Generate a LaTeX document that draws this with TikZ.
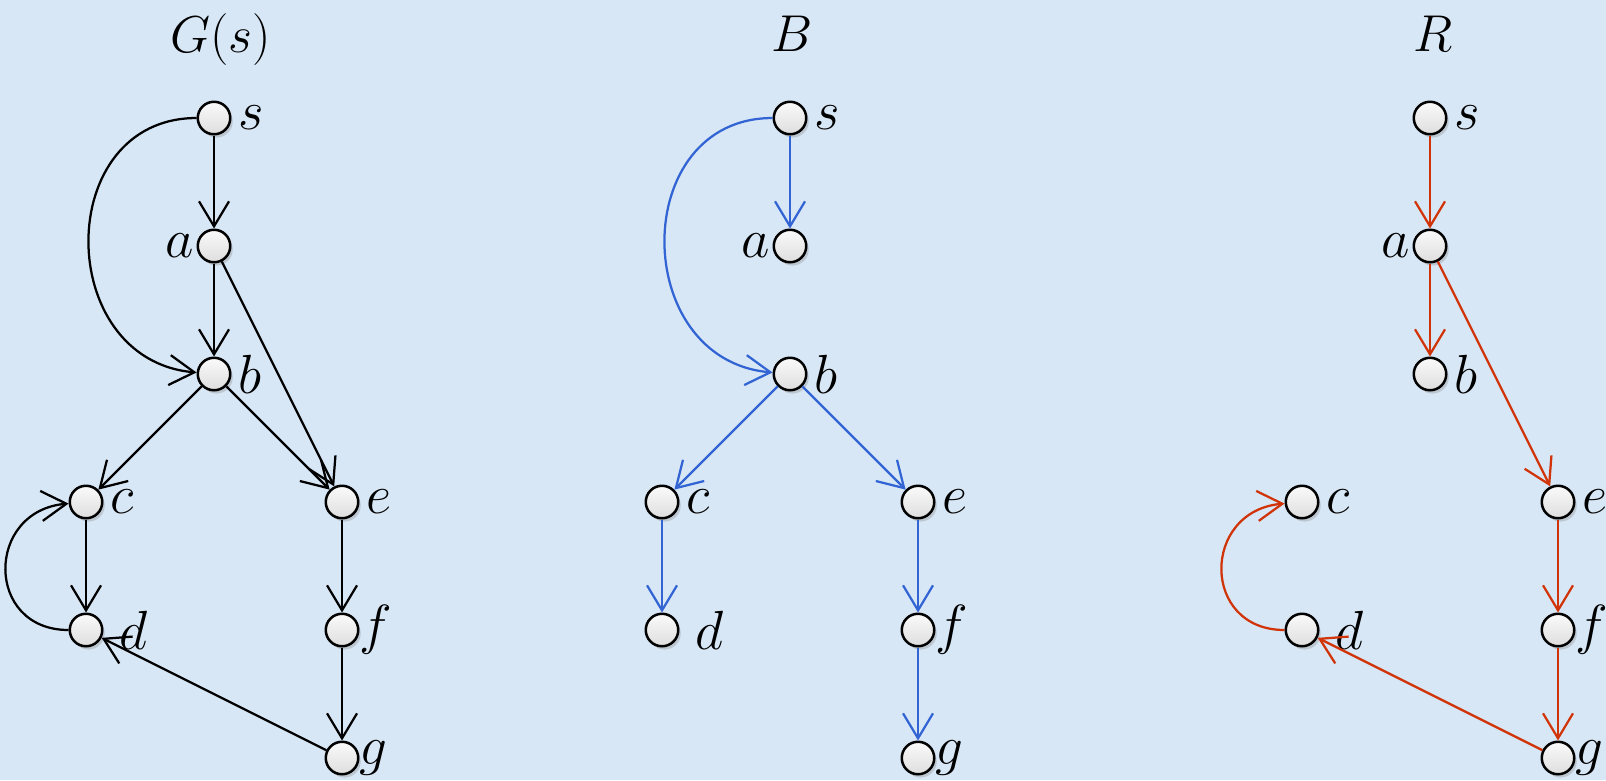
\documentclass[tikz,border=0pt]{standalone}
\usepackage{amsmath}
\usepackage{xcolor}
\usepackage{tikz}
\usetikzlibrary{arrows.meta,shadows}

\definecolor{paper}{RGB}{216,231,246}
\definecolor{bluepath}{RGB}{50,100,212}
\definecolor{redpath}{RGB}{208,52,8}

\begin{document}
\begin{tikzpicture}[x=76.8pt,y=76.8pt,
    vertex/.style={circle,draw,line width=1.5pt,minimum size=19.5pt,inner sep=0pt,
        top color=gray!4,bottom color=gray!26,
        drop shadow={shadow xshift=1.5pt,shadow yshift=-2pt,opacity=0.3}},
    every label/.style={font=\Huge,scale=1.33,inner sep=1pt},
    label distance=2pt,
    link/.style={line width=1.35pt,-{Straight Barb[length=15pt,width=18pt,line width=1.35pt]}},
    title/.style={font=\Huge,scale=1.25,anchor=base}]

    % Background
    \fill[paper] (-0.672,0.922) rectangle (11.875,-5.172);
    \useasboundingbox (-0.672,0.922) rectangle (11.875,-5.172);

    % Vertices, same layout in all three graphs
    \foreach \p/\dx in {G/0,B/4.5,R/9.5} {
        \node[vertex,label=right:$s$] (\p s) at (\dx+1,0) {};
        \node[vertex,label={[label distance=0pt]left:$a$}] (\p a) at (\dx+1,-1) {};
        \node[vertex,label=right:$b$] (\p b) at (\dx+1,-2) {};
        \node[vertex,label=right:$c$] (\p c) at (\dx,-3) {};
        \node[vertex,label={[label distance=6pt]right:$d$}] (\p d) at (\dx,-4) {};
        \node[vertex,label=right:$e$] (\p e) at (\dx+2,-3) {};
        \node[vertex,label={[label distance=-1pt]right:$f$}] (\p f) at (\dx+2,-4) {};
        \node[vertex,label={[label distance=-1pt]right:$g$}] (\p g) at (\dx+2,-5) {};
    }

    % Titles
    \node[title] (titleG) at (1.05,0.51) {$G(s)$};
    \node[title] (titleB) at (5.52,0.52) {$B$};
    \node[title] (titleR) at (10.52,0.52) {$R$};

    % Graph G(s)
    \draw[link] (Gs) -- (Ga);
    \draw[link] (Ga) -- (Gb);
    \draw[link] (Gs) to[out=180,in=175,looseness=1.45] (Gb);
    \draw[link] (Ga) -- (Ge);
    \draw[link] (Gb) -- (Gc);
    \draw[link] (Gb) -- (Ge);
    \draw[link] (Gc) -- (Gd);
    \draw[link] (Gd) to[out=180,in=185,looseness=1.7] (Gc);
    \draw[link] (Ge) -- (Gf);
    \draw[link] (Gf) -- (Gg);
    \draw[link] (Gg) -- (Gd);

    % Tree B
    \draw[link,bluepath] (Bs) -- (Ba);
    \draw[link,bluepath] (Bs) to[out=180,in=175,looseness=1.45] (Bb);
    \draw[link,bluepath] (Bb) -- (Bc);
    \draw[link,bluepath] (Bb) -- (Be);
    \draw[link,bluepath] (Bc) -- (Bd);
    \draw[link,bluepath] (Be) -- (Bf);
    \draw[link,bluepath] (Bf) -- (Bg);

    % Tree R
    \draw[link,redpath] (Rs) -- (Ra);
    \draw[link,redpath] (Ra) -- (Rb);
    \draw[link,redpath] (Ra) -- (Re);
    \draw[link,redpath] (Re) -- (Rf);
    \draw[link,redpath] (Rf) -- (Rg);
    \draw[link,redpath] (Rg) -- (Rd);
    \draw[link,redpath] (Rd) to[out=180,in=185,looseness=1.7] (Rc);
\end{tikzpicture}
\end{document}
